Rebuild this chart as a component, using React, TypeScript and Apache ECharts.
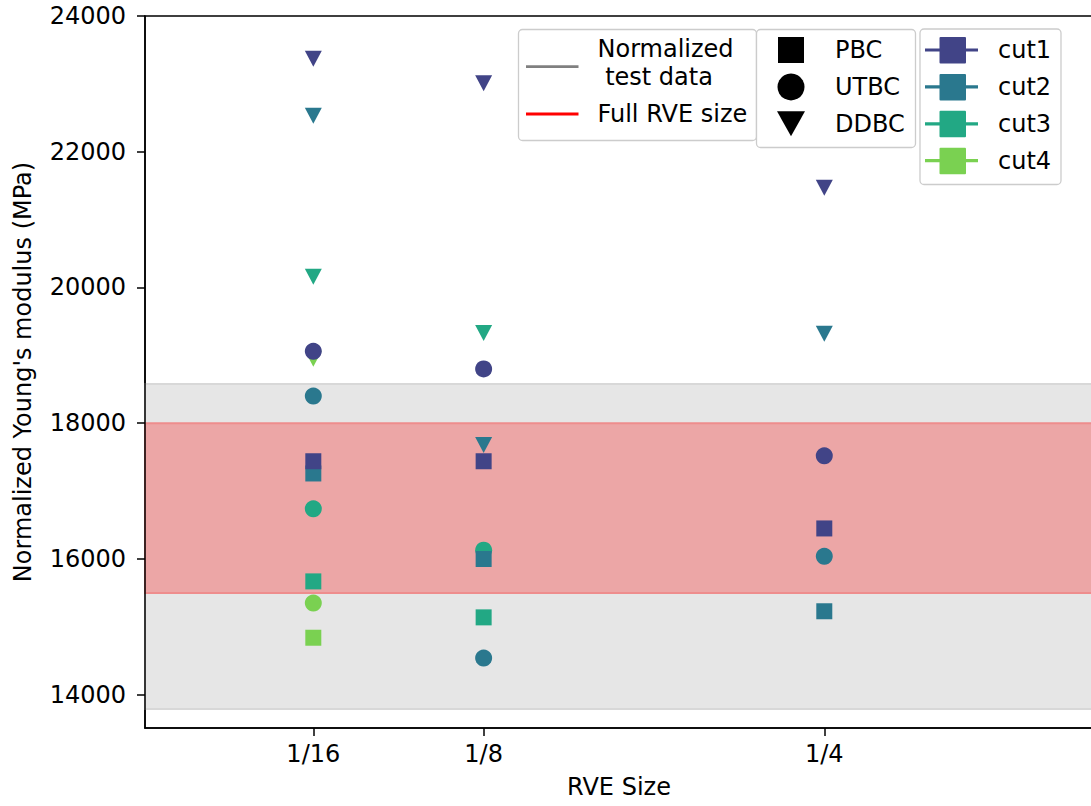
import React, { useEffect, useRef } from "react";
import * as echarts from "echarts";

// ---- data ----
const rveSizes = [1 / 16, 1 / 8, 1 / 4];
const rveLabels = ["1/16", "1/8", "1/4"];
const yTicks = [14000, 16000, 18000, 20000, 22000, 24000];

const cutNames = ["cut1", "cut2", "cut3", "cut4"];
const cutColors = ["#414487", "#2a788e", "#22a884", "#7ad151"];
const bcNames = ["PBC", "UTBC", "DDBC"];

// values per RVE size (1/16, 1/8, 1/4); null = no result
const pbcCut1 = [17440, 17440, 16450];
const pbcCut2 = [17260, 16000, 15230];
const pbcCut3 = [15670, 15140, null];
const pbcCut4 = [14840, null, null];

const utbcCut1 = [19060, 18800, 17520];
const utbcCut2 = [18400, 14540, 16040];
const utbcCut3 = [16740, 16130, null];
const utbcCut4 = [15350, null, null];

const ddbcCut1 = [23370, 23010, 21470];
const ddbcCut2 = [22530, 17680, 19320];
const ddbcCut3 = [20160, 19330, null];
const ddbcCut4 = [18950, null, null];

const testDataBand = [13790, 18580];
const fullRveBand = [15500, 18000];

const bandLegend = ["Normalized\n test data", "Full RVE size"];

const FONT = '"DejaVu Sans", sans-serif';
const FS = 24;
const W = 1100;
const H = 806;

export default function App() {
  const ref = useRef<HTMLDivElement>(null);

  useEffect(() => {
    if (!ref.current) return;
    const chart = echarts.init(ref.current, undefined, { renderer: "svg" });

    const bcValues: (number | null)[][][] = [
      [pbcCut1, pbcCut2, pbcCut3, pbcCut4],
      [utbcCut1, utbcCut2, utbcCut3, utbcCut4],
      [ddbcCut1, ddbcCut2, ddbcCut3, ddbcCut4],
    ];
    const bcSymbol = [
      { symbol: "rect", size: 16, rotate: 0 },
      { symbol: "circle", size: 17, rotate: 0 },
      { symbol: "triangle", size: [17, 16], rotate: 180 },
    ];

    const series: any[] = [
      {
        type: "scatter",
        name: "bands",
        data: [],
        z: 1,
        silent: true,
        markArea: {
          silent: true,
          data: [
            [
              {
                yAxis: testDataBand[0],
                itemStyle: { color: "#e6e6e6", borderColor: "#d8d8d8", borderWidth: 2 },
              },
              { yAxis: testDataBand[1] },
            ],
            [
              {
                yAxis: fullRveBand[0],
                itemStyle: { color: "#eca6a6", borderColor: "#ee8d8d", borderWidth: 2 },
              },
              { yAxis: fullRveBand[1] },
            ],
          ],
        },
      },
    ];

    // draw order: cut4 first, cut1 last (on top)
    for (let c = cutNames.length - 1; c >= 0; c--) {
      for (let b = 0; b < bcNames.length; b++) {
        const vals = bcValues[b][c];
        const data = rveSizes
          .map((x, i) => (vals[i] == null ? null : [x, vals[i]]))
          .filter((d) => d !== null);
        series.push({
          type: "scatter",
          name: `${bcNames[b]} ${cutNames[c]}`,
          data,
          z: 3,
          symbol: bcSymbol[b].symbol,
          symbolSize: bcSymbol[b].size,
          symbolRotate: bcSymbol[b].rotate,
          itemStyle: { color: cutColors[c], opacity: 1 },
        });
      }
    }

    // ---- legend boxes drawn as graphic ----
    const textEl = (text: string, x: number, y: number, extra: any = {}) => ({
      type: "text",
      x,
      y,
      style: {
        text,
        font: `${FS}px ${FONT}`,
        fill: "#000",
        align: "left",
        verticalAlign: "middle",
        ...extra,
      },
    });
    const box = (x: number, y: number, w: number, h: number) => ({
      type: "rect",
      shape: { x, y, width: w, height: h, r: 4 },
      style: { fill: "rgba(255,255,255,0.8)", stroke: "#cccccc", lineWidth: 1.3 },
    });

    const g: any[] = [];
    // legend 1 (bands)
    g.push(box(518.5, 29.5, 238, 111));
    const l1Colors = ["#808080", "#ff0000"];
    const l1Y = [66.7, 114];
    bandLegend.forEach((name, i) => {
      g.push({
        type: "line",
        shape: { x1: 526, y1: l1Y[i], x2: 578.5, y2: l1Y[i] },
        style: { stroke: l1Colors[i], lineWidth: 2.8 },
      });
    });
    g.push(textEl(bandLegend[0], 597.5, 63.3, { lineHeight: 28.3 }));
    g.push(textEl(bandLegend[1], 597.5, 114));

    // legend 2 (boundary conditions)
    g.push(box(756.5, 29.5, 159, 118));
    const rowY = [50, 86.9, 123.8, 160.7];
    g.push({
      type: "rect",
      shape: { x: 778, y: rowY[0] - 13, width: 26, height: 26 },
      style: { fill: "#000" },
    });
    g.push({
      type: "circle",
      shape: { cx: 791, cy: rowY[1], r: 13.5 },
      style: { fill: "#000" },
    });
    g.push({
      type: "polygon",
      shape: {
        points: [
          [777, rowY[2] - 12.5],
          [805, rowY[2] - 12.5],
          [791, rowY[2] + 12.5],
        ],
      },
      style: { fill: "#000" },
    });
    bcNames.forEach((n, i) => g.push(textEl(n, 835, rowY[i])));

    // legend 3 (cuts)
    g.push(box(920, 29, 141, 155.5));
    cutNames.forEach((n, i) => {
      g.push({
        type: "line",
        shape: { x1: 925, y1: rowY[i], x2: 978, y2: rowY[i] },
        style: { stroke: cutColors[i], lineWidth: 3.2 },
      });
      g.push({
        type: "rect",
        shape: { x: 939.5, y: rowY[i] - 13, width: 26.5, height: 26.5, r: 1 },
        style: { fill: cutColors[i] },
      });
      g.push(textEl(n, 998, rowY[i]));
    });

    const axisCommon = {
      axisLine: { show: true, onZero: false, lineStyle: { color: "#000", width: 1.5 } },
      splitLine: { show: false },
      nameTextStyle: { fontFamily: FONT, fontSize: FS, color: "#000" },
      z: 10,
    };

    chart.setOption({
      animation: false,
      backgroundColor: "#fff",
      grid: {
        left: 145,
        top: 16,
        right: W - 1093,
        bottom: H - 728,
        show: true,
        borderColor: "#000",
        borderWidth: 1.5,
        backgroundColor: "transparent",
      },
      xAxis: {
        type: "value",
        min: 0.00074,
        max: 0.3486,
        name: "RVE Size",
        nameLocation: "middle",
        nameGap: 47,
        ...axisCommon,
        axisTick: {
          show: true,
          length: 8,
          customValues: rveSizes,
          lineStyle: { color: "#000", width: 1.5 },
        },
        axisLabel: {
          customValues: rveSizes,
          margin: 14,
          fontFamily: FONT,
          fontSize: FS,
          color: "#000",
          formatter: (v: number) => {
            const i = rveSizes.findIndex((s) => Math.abs(s - v) < 1e-9);
            return i >= 0 ? rveLabels[i] : "";
          },
        },
      },
      yAxis: {
        type: "value",
        min: 13510,
        max: 24000,
        name: "Normalized Young's modulus (MPa)",
        nameLocation: "middle",
        nameGap: 110,
        ...axisCommon,
        axisTick: {
          show: true,
          length: 8,
          customValues: yTicks,
          lineStyle: { color: "#000", width: 1.5 },
        },
        axisLabel: {
          customValues: yTicks,
          margin: 19,
          fontFamily: FONT,
          fontSize: FS,
          color: "#000",
          formatter: (v: number) => String(v),
        },
      },
      series,
      graphic: g.map((e) => ({ ...e, z: 100 })),
    });

    return () => chart.dispose();
  }, []);

  return (
    <div
      style={{
        position: "fixed",
        left: 0,
        top: 0,
        width: 1091,
        height: H,
        overflow: "hidden",
        background: "#fff",
      }}
    >
      <div ref={ref} style={{ width: W, height: H }} />
    </div>
  );
}
